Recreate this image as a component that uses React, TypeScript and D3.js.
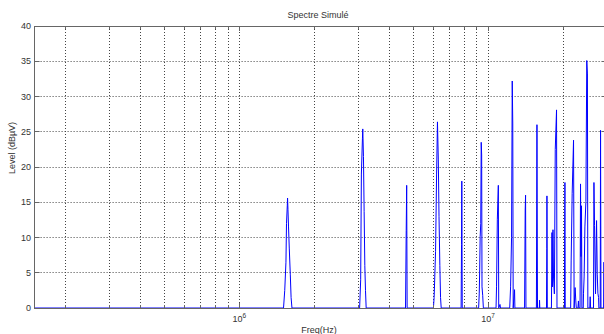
import React from "react";
import * as d3 from "d3";

// spectrum points (MHz / dBµV), one row per peak group
const freqMHz = [
  0.15,
  1.503, 1.52, 1.537, 1.545, 1.556, 1.56, 1.566, 1.574, 1.585, 1.6, 1.612, 1.625,
  3.04, 3.07, 3.09, 3.12, 3.13, 3.15, 3.17, 3.19, 3.21, 3.23,
  4.65, 4.68, 4.7, 4.72,
  6.02, 6.06, 6.14, 6.2, 6.25, 6.3, 6.34, 6.39, 6.43, 6.47,
  7.78, 7.81, 7.83, 7.86,
  9.15, 9.2, 9.24, 9.28, 9.33, 9.37, 9.41, 9.44, 9.5, 9.56,
  10.75, 10.8, 10.88, 10.98, 11.02, 11.15, 11.2,
  12.2, 12.3, 12.41, 12.49, 12.55, 12.6, 12.76, 12.8,
  14.0, 14.08, 14.13, 14.18,
  15.62, 15.7, 15.78, 16.05, 16.08, 16.12,
  17.15, 17.2, 17.22, 17.28,
  17.95, 18.04, 18.12, 18.21, 18.3, 18.45, 18.6, 18.82, 18.9,
  20.25, 20.28, 20.34, 20.4,
  21.45, 21.55, 21.75, 22.03, 22.15, 22.35, 22.5, 22.6,
  22.95, 23.05, 23.15, 23.4, 23.5, 23.6, 23.72, 23.8,
  24.1, 24.16, 24.3, 24.47, 24.7, 24.9, 25.05, 25.15,
  25.6, 25.7, 25.8,
  26.5, 26.61, 26.76, 27.0, 27.26, 27.44, 27.6, 27.77, 27.85,
  28.2, 28.29, 28.4, 29.1, 29.19, 29.3, 30,
];
const levelDb = [
  0,
  0, 2.5, 6.5, 12, 14.5, 15.6, 14, 11.5, 8.5, 4.8, 1.5, 0,
  0, 4, 19, 24, 25.4, 21.5, 13.7, 6, 2.5, 0,
  0, 11, 17.4, 0,
  0, 1.5, 8, 19, 26.4, 21, 13, 6, 1.5, 0,
  0, 9, 18, 0,
  0, 2, 5.4, 10.1, 12, 23.5, 21.7, 3, 1.8, 0,
  0, 3, 12.6, 17.4, 0, 0.5, 0,
  0, 3, 10, 32.2, 26.1, 0, 2.6, 0,
  0, 13.9, 16, 0,
  0, 26, 0, 0, 1.1, 0,
  0, 8.4, 15.9, 0,
  0, 10.7, 3, 11.1, 4.4, 2, 22.5, 28.1, 0,
  0, 9.2, 17.8, 0,
  0, 6.8, 16.2, 23.8, 0, 2.9, 1, 0,
  0, 1, 0, 0, 17.6, 7.3, 14.5, 0,
  0, 2.1, 4.4, 11.5, 15.1, 35.1, 33.2, 0,
  0, 1.6, 0,
  0, 17.8, 11.7, 2, 12.4, 4.7, 2.1, 1.5, 0,
  0, 25.2, 0, 0, 6.5, 0, 0,
];

const yTicks = [0, 5, 10, 15, 20, 25, 30, 35, 40];
const decadeExps = [6, 7];

const W = 604;
const H = 334;
const FONT = "'Liberation Sans', Arial, sans-serif";

const crisp = (v: number) => Math.floor(v) + 0.5;

export default function App() {
  const x = d3.scaleLog().domain([1.5e5, 3e7]).range([34.6, 606.9]);
  const y = d3.scaleLinear().domain([0, 40]).range([308, 26]);

  const left = x.range()[0];
  const right = x.range()[1];
  const top = y.range()[1];
  const bottom = y.range()[0];

  // minor log positions 1..9 x decade inside the domain
  const logTicks: number[] = [];
  for (let e = 5; e <= 7; e++) {
    for (let m = 1; m <= 9; m++) {
      const v = m * Math.pow(10, e);
      if (v > 1.5e5 && v < 3e7) logTicks.push(v);
    }
  }

  const pts: [number, number][] = freqMHz.map((f, i) => [f * 1e6, levelDb[i]]);
  const line = d3
    .line<[number, number]>()
    .x((d) => x(d[0]))
    .y((d) => y(d[1]));

  return (
    <svg
      width={W}
      height={H}
      style={{ position: "absolute", left: 0, top: 0, background: "#fff" }}
      fontFamily={FONT}
    >
      <defs>
        <clipPath id="plot">
          <rect x={left} y={top} width={right - left} height={bottom - top} />
        </clipPath>
      </defs>
      <rect x={0} y={0} width={W} height={H} fill="#fff" />

      {/* grid */}
      <g stroke="#444" strokeWidth={1} strokeDasharray="1,2">
        {logTicks.map((v) => (
          <line key={"gx" + v} x1={crisp(x(v))} x2={crisp(x(v))} y1={top} y2={bottom} />
        ))}
        {yTicks.slice(1, -1).map((v) => (
          <line key={"gy" + v} x1={left} x2={right} y1={crisp(y(v))} y2={crisp(y(v))} />
        ))}
      </g>

      {/* spectrum */}
      <path
        d={line(pts) || ""}
        fill="none"
        stroke="#0000ff"
        strokeWidth={1}
        clipPath="url(#plot)"
      />

      {/* frame and ticks */}
      <g stroke="#666" strokeWidth={1} fill="none">
        <line x1={crisp(left)} x2={right} y1={crisp(bottom)} y2={crisp(bottom)} />
        <line x1={crisp(left)} x2={right} y1={crisp(top)} y2={crisp(top)} />
        <line x1={crisp(left)} x2={crisp(left)} y1={top} y2={bottom + 1} />
        <line x1={crisp(right)} x2={crisp(right)} y1={top} y2={bottom + 1} />
        {logTicks.map((v) => {
          const major = decadeExps.some((e) => Math.abs(v - Math.pow(10, e)) < 1);
          const len = major ? 5 : 3;
          return (
            <g key={"t" + v}>
              <line x1={crisp(x(v))} x2={crisp(x(v))} y1={bottom} y2={bottom - len} />
              <line x1={crisp(x(v))} x2={crisp(x(v))} y1={top} y2={top + len} />
            </g>
          );
        })}
        {yTicks.map((v) => (
          <g key={"ty" + v}>
            <line x1={left} x2={left + 5} y1={crisp(y(v))} y2={crisp(y(v))} />
            <line x1={right} x2={right - 5} y1={crisp(y(v))} y2={crisp(y(v))} />
          </g>
        ))}
      </g>

      {/* y tick labels */}
      <g fontSize={9} fill="#333" textAnchor="end">
        {yTicks.map((v) => (
          <text key={"ly" + v} x={31} y={y(v) + 3.2}>
            {v}
          </text>
        ))}
      </g>

      {/* x decade labels */}
      <g fontSize={9} fill="#333">
        {decadeExps.map((e) => {
          const px = x(Math.pow(10, e));
          return (
            <text key={"lx" + e} x={px - 7} y={322}>
              10
              <tspan fontSize={6.5} dy={-4.5}>
                {e}
              </tspan>
            </text>
          );
        })}
      </g>

      <text x={318} y={18} fontSize={9} fill="#333" textAnchor="middle">
        Spectre Simulé
      </text>
      <text x={319} y={333} fontSize={9} fill="#333" textAnchor="middle">
        Freq(Hz)
      </text>
      <text
        transform="translate(15,148) rotate(-90)"
        fontSize={9}
        fill="#333"
        textAnchor="middle"
      >
        Level (dBµV)
      </text>
    </svg>
  );
}
